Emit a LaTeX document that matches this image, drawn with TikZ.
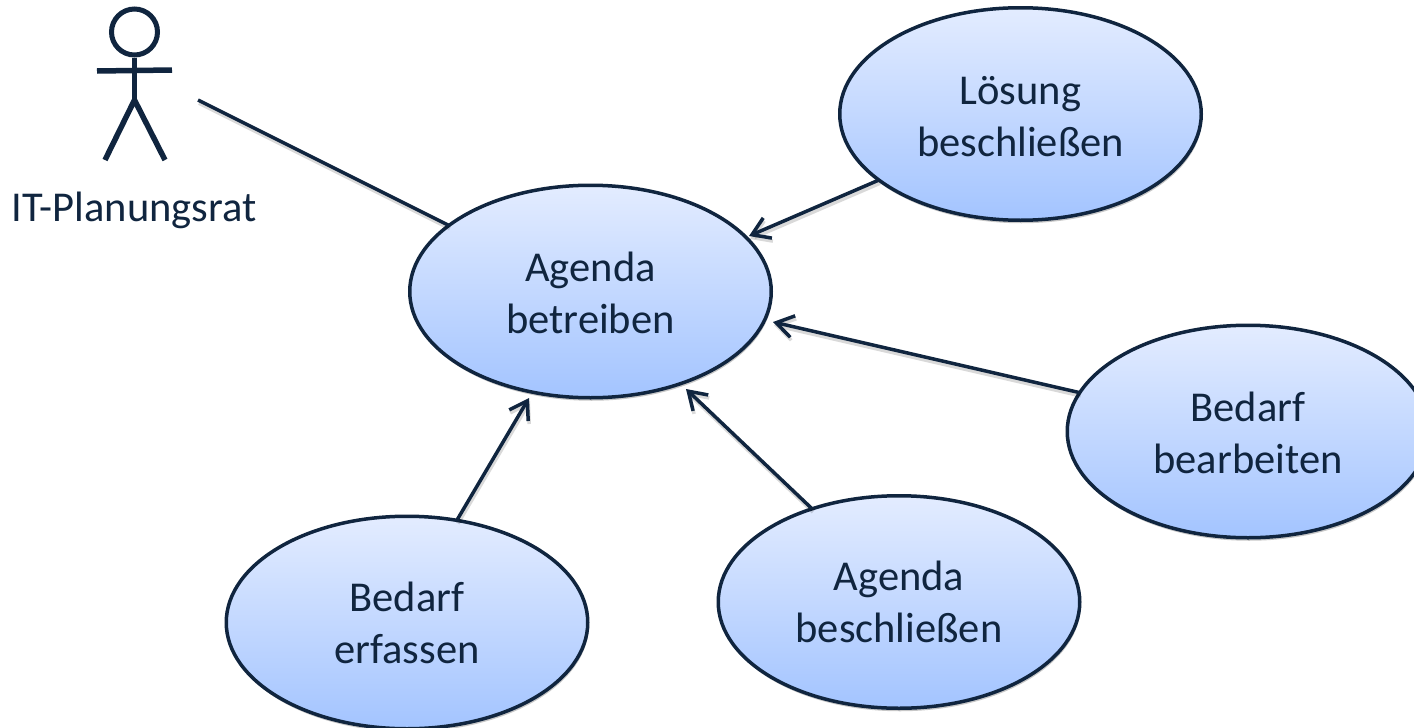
\documentclass[tikz,border=0pt]{standalone}
\usepackage{fontspec}
\setmainfont{Carlito}
\usetikzlibrary{shapes.geometric,arrows.meta,shadows}
\definecolor{navy}{HTML}{10253F}
\definecolor{topc}{HTML}{E3ECFF}
\definecolor{botc}{HTML}{A3C4FF}
\newcommand{\dropdown}[1]{\rule{0pt}{\dimexpr 31pt+2\dimexpr #1pt\relax\relax}}
\tikzset{
  usecase/.style={ellipse,draw=navy,line width=3.5pt,top color=topc,bottom color=botc,minimum width=361.5pt,minimum height=212.5pt,inner sep=0pt,outer sep=0pt,align=center,text=navy,font=\fontsize{42.5}{52}\selectfont,drop shadow={shadow xshift=1pt,shadow yshift=-3pt,fill=black,opacity=.22}},
  conn/.style={draw=navy,line width=3.5pt,preaction={draw=black,opacity=.15,line width=4pt,transform canvas={xshift=1pt,yshift=-3pt}}},
  arrowconn/.style={conn,-{Straight Barb[length=17pt,width=22pt,line width=3.5pt]}},
  stick/.style={draw=navy,line width=5.5pt},
  caption/.style={text=navy,font=\fontsize{42.5}{52}\selectfont,inner sep=0pt}
}
\begin{document}
\begin{tikzpicture}[x=1pt,y=-1pt]
\useasboundingbox (0,0) rectangle (1414,728);
\clip (0,0) rectangle (1414,728);
\node[usecase] (age) at (590.5,291.5) {\dropdown{1}Agenda\\betreiben};
\node[usecase] (sol) at (1020.5,114) {\dropdown{1}Lösung\\beschließen};
\node[usecase] (bbe) at (1248,431.5) {\dropdown{1}Bedarf\\bearbeiten};
\node[usecase] (ber) at (407,622.5) {\dropdown{0}Bedarf\\erfassen};
\node[usecase] (abe) at (899,602) {\dropdown{-1}Agenda\\beschließen};
\node[draw=navy,line width=5pt,circle,minimum size=46pt,inner sep=0pt] (head) at (134.5,32) {};
\coordinate (hip) at (134.5,100);
\coordinate (armL) at (97,71);
\coordinate (armR) at (172,70);
\coordinate (footL) at (105,160);
\coordinate (footR) at (165,160);
\coordinate (lineStart) at (198,100);
\coordinate (tipA) at (749,236);
\coordinate (tipB) at (773,322);
\coordinate (tipC) at (529,398);
\coordinate (tipD) at (686,389);
\draw[stick] (head.south) -- (hip);
\draw[stick] (armL) -- (armR);
\draw[stick] (footL) -- (hip) -- (footR);
\node[caption] (actor) at (134,210) {IT-Planungsrat};
\draw[conn] (lineStart) -- (age.155.8);
\draw[arrowconn] (sol.205.8) -- (tipA);
\draw[arrowconn] (bbe.167.3) -- (tipB);
\draw[arrowconn] (ber.64.4) -- (tipC);
\draw[arrowconn] (abe.133.4) -- (tipD);
\end{tikzpicture}
\end{document}
